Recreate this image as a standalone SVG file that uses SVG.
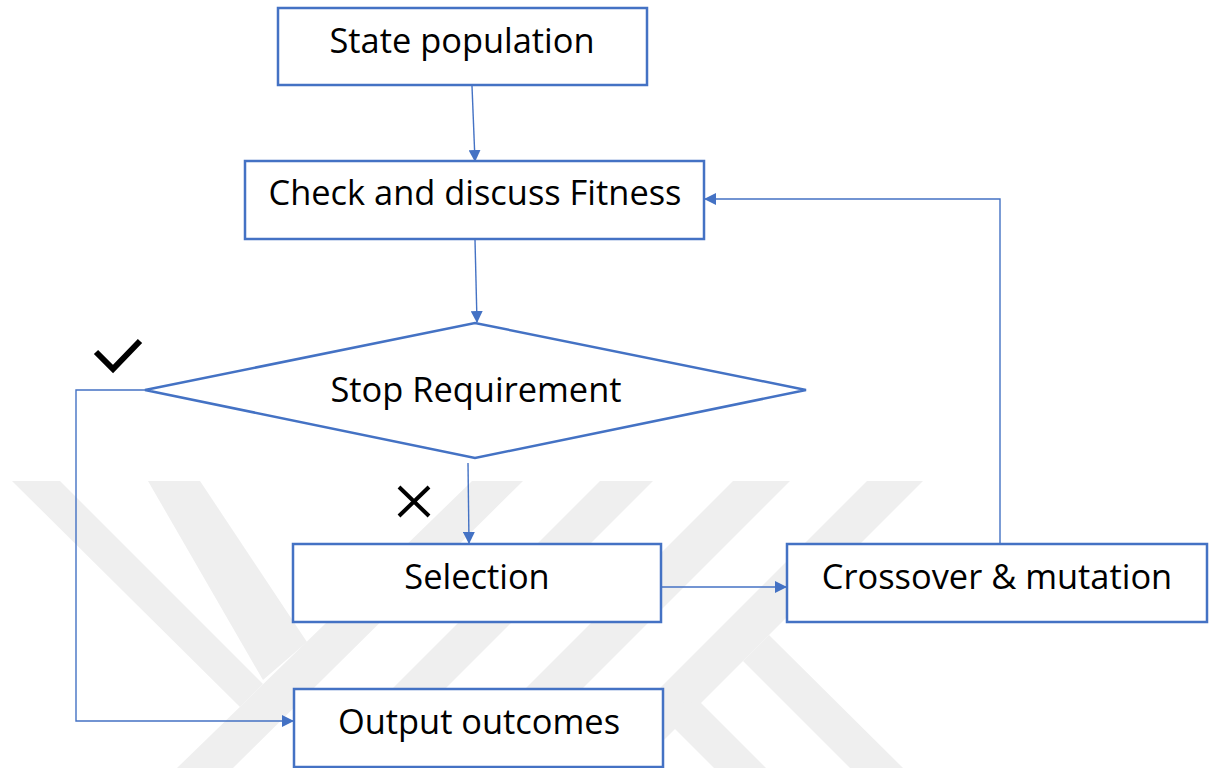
<svg xmlns="http://www.w3.org/2000/svg" width="1209" height="768" viewBox="0 0 1209 768">
<defs>
<style>
.node{fill:#ffffff;stroke:#4472C4;stroke-width:2.5}
.lbl{font-family:"Open Sans","Liberation Sans",sans-serif;font-size:34.4px;fill:#000000;text-anchor:middle}
.conn{fill:none;stroke:#4472C4;stroke-width:1.4}
.wm{fill:#efefef}
.mark{fill:none;stroke:#000000}
</style>
<marker id="arr" markerWidth="12" markerHeight="12" refX="11" refY="6" orient="auto" markerUnits="userSpaceOnUse">
<path d="M0,0 L12,6 L0,12 Z" fill="#4472C4"/>
</marker>
</defs>
<rect width="1209" height="768" fill="#ffffff"/>
<g id="watermark">
<polygon class="wm" points="12,481 60,481 263,684 240,707"/>
<polygon class="wm" points="148,481 200,481 307,642 263,680"/>
<polygon class="wm" points="472,481 523,481 233,768 177,768"/>
<polygon class="wm" points="600,481 653,481 366,768 313,768"/>
<polygon class="wm" points="733,481 790,481 503,768 446,768"/>
<polygon class="wm" points="867,481 923,481 636,768 580,768"/>
<polygon class="wm" points="743,661 769,635 903,768 850,768"/>
<polygon class="wm" points="647,701 701,703 766,768 714,768"/>
</g>
<g id="connectors">
<line class="conn" x1="472" y1="86" x2="475" y2="161" marker-end="url(#arr)"/>
<line class="conn" x1="475" y1="240" x2="477" y2="322" marker-end="url(#arr)"/>
<line class="conn" x1="468" y1="463" x2="469" y2="543" marker-end="url(#arr)"/>
<line class="conn" x1="662" y1="587" x2="786" y2="587" marker-end="url(#arr)"/>
<polyline class="conn" points="1000,544 1000,199 705,199" marker-end="url(#arr)"/>
<polyline class="conn" points="145,390 76,390 76,721 293,721" marker-end="url(#arr)"/>
</g>
<g id="n-state">
<rect class="node" x="278" y="8" width="369" height="77"/>
<text class="lbl" x="462" y="53">State population</text>
</g>
<g id="n-fitness">
<rect class="node" x="245" y="161" width="459" height="78"/>
<text class="lbl" x="475" y="205">Check and discuss Fitness</text>
</g>
<g id="n-stop">
<polygon class="node" points="145,390 475,323 806,390 475,458"/>
<text class="lbl" x="476" y="402">Stop Requirement</text>
</g>
<g id="n-selection">
<rect class="node" x="293" y="544" width="368" height="78"/>
<text class="lbl" x="477" y="589">Selection</text>
</g>
<g id="n-crossover">
<rect class="node" x="787" y="544" width="420" height="78"/>
<text class="lbl" x="997" y="589">Crossover &amp; mutation</text>
</g>
<g id="n-output">
<rect class="node" x="294" y="689" width="369" height="78"/>
<text class="lbl" x="479" y="734">Output outcomes</text>
</g>
<g id="marks">
<polyline class="mark" stroke-width="6" points="96,352 113,369 140,341"/>
<path class="mark" stroke-width="4" d="M399,487 L429,516 M429,487 L399,516"/>
</g>
</svg>
